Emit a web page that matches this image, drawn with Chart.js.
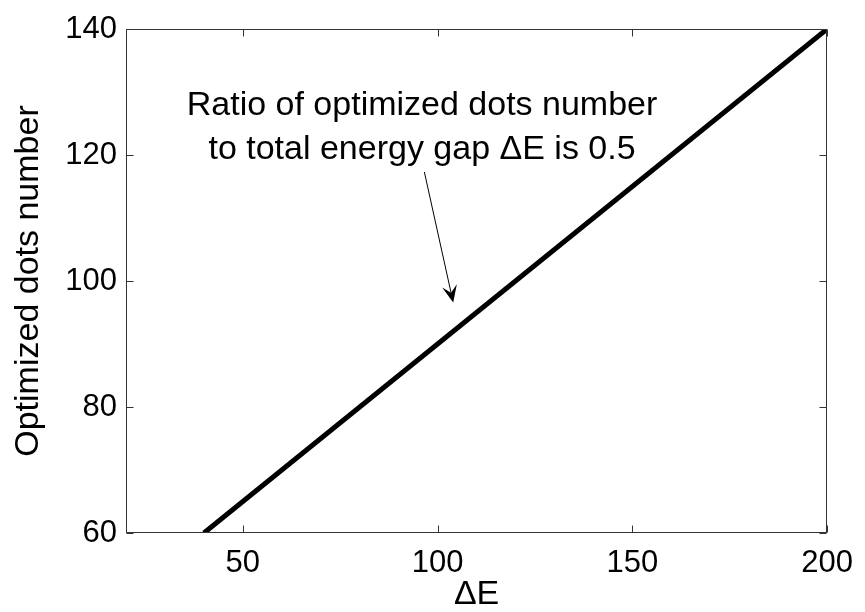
<!DOCTYPE html>
<html>
<head>
<meta charset="utf-8">
<script src="https://cdn.jsdelivr.net/npm/chart.js@4"></script>
<style>
    body { margin: 0; background: #fff; }
    #wrap { width: 865px; height: 612px; }
</style>
</head>
<body>
<div id="wrap"><canvas id="dotsChart"></canvas></div>
<script>
// data
const gapE = [40, 200];
const dotsNumber = [60, 140];
const xTicks = [50, 100, 150, 200];
const yTicks = [60, 80, 100, 120, 140];

// annotation, in data units
const noteLines = ['Ratio of optimized dots number', 'to total energy gap \u0394E is 0.5'];
const noteAt = { x: 96, y: [127.8, 120.8] };
const arrowFrom = { x: 96.6, y: 117.3 };
const arrowTo = { x: 104, y: 96.6 };

const FONT = "'Liberation Sans', Arial, Helvetica, sans-serif";

document.addEventListener('DOMContentLoaded', function() {
    const ctx = document.getElementById('dotsChart').getContext('2d');

    // box, inward ticks on all four sides, and the arrow note
    const matlabBox = {
        id: 'matlabBox',
        afterDatasetsDraw(chart) {
            const c = chart.ctx;
            const a = chart.chartArea;
            const xs = chart.scales.x, ys = chart.scales.y;
            const L = Math.round(a.left) + 0.5, R = Math.round(a.right) - 0.5;
            const T = Math.round(a.top) + 0.5, B = Math.round(a.bottom) - 0.5;
            const tick = 7;

            c.save();
            c.strokeStyle = '#333';
            c.lineWidth = 1;
            c.strokeRect(L, T, R - L, B - T);
            c.beginPath();
            xTicks.forEach(function(v) {
                const px = Math.round(xs.getPixelForValue(v)) + 0.5;
                c.moveTo(px, B); c.lineTo(px, B - tick);
                c.moveTo(px, T); c.lineTo(px, T + tick);
            });
            yTicks.forEach(function(v) {
                const py = Math.round(ys.getPixelForValue(v)) + 0.5;
                c.moveTo(L, py); c.lineTo(L + tick, py);
                c.moveTo(R, py); c.lineTo(R - tick, py);
            });
            c.stroke();

            // note text
            c.fillStyle = '#000';
            c.font = '34px ' + FONT;
            c.textAlign = 'center';
            c.textBaseline = 'middle';
            noteLines.forEach(function(line, i) {
                c.fillText(line, xs.getPixelForValue(noteAt.x), ys.getPixelForValue(noteAt.y[i]));
            });

            // arrow with a notched head
            const x0 = xs.getPixelForValue(arrowFrom.x), y0 = ys.getPixelForValue(arrowFrom.y);
            const x1 = xs.getPixelForValue(arrowTo.x), y1 = ys.getPixelForValue(arrowTo.y);
            const ang = Math.atan2(y1 - y0, x1 - x0);
            const cs = Math.cos(ang), sn = Math.sin(ang);
            const len = 17, half = 7.5, back = 10;
            c.strokeStyle = '#000';
            c.lineWidth = 1;
            c.beginPath();
            c.moveTo(x0, y0);
            c.lineTo(x1 - cs * back, y1 - sn * back);
            c.stroke();
            c.beginPath();
            c.moveTo(x1, y1);
            c.lineTo(x1 - cs * len - sn * half, y1 - sn * len + cs * half);
            c.lineTo(x1 - cs * back, y1 - sn * back);
            c.lineTo(x1 - cs * len + sn * half, y1 - sn * len - cs * half);
            c.closePath();
            c.fill();
            c.restore();
        }
    };

    const dotsChart = new Chart(ctx, {
        type: 'scatter',
        data: {
            datasets: [{
                label: 'Optimized dots number',
                data: gapE.map(function(x, i) { return { x: x, y: dotsNumber[i] }; }),
                showLine: true,
                borderColor: '#000',
                backgroundColor: '#000',
                borderWidth: 5,
                borderCapStyle: 'butt',
                pointRadius: 0
            }]
        },
        options: {
            responsive: true,
            maintainAspectRatio: false,
            animation: false,
            layout: {
                padding: { left: 0, top: 29, right: 34, bottom: 0 }
            },
            plugins: {
                legend: { display: false },
                tooltip: { enabled: false }
            },
            scales: {
                x: {
                    type: 'linear',
                    min: 20,
                    max: 200,
                    afterBuildTicks: function(scale) {
                        scale.ticks = xTicks.map(function(v) { return { value: v }; });
                    },
                    afterFit: function(scale) { scale.height = 79; },
                    grid: { display: false, drawTicks: false },
                    border: { display: false },
                    ticks: {
                        color: '#000',
                        padding: 12,
                        maxRotation: 0,
                        font: { family: FONT, size: 31 }
                    },
                    title: {
                        display: true,
                        text: '\u0394E',
                        color: '#000',
                        padding: 0,
                        font: { family: FONT, size: 34, lineHeight: 1 }
                    }
                },
                y: {
                    type: 'linear',
                    min: 60,
                    max: 140,
                    afterBuildTicks: function(scale) {
                        scale.ticks = yTicks.map(function(v) { return { value: v }; });
                    },
                    afterFit: function(scale) { scale.width = 126; },
                    grid: { display: false, drawTicks: false },
                    border: { display: false },
                    ticks: {
                        color: '#000',
                        padding: 9,
                        font: { family: FONT, size: 31 }
                    },
                    title: {
                        display: true,
                        text: 'Optimized dots number',
                        color: '#000',
                        padding: { top: 8, bottom: 0 },
                        font: { family: FONT, size: 34 }
                    }
                }
            }
        },
        plugins: [matlabBox]
    });
});
</script>
</body>
</html>
